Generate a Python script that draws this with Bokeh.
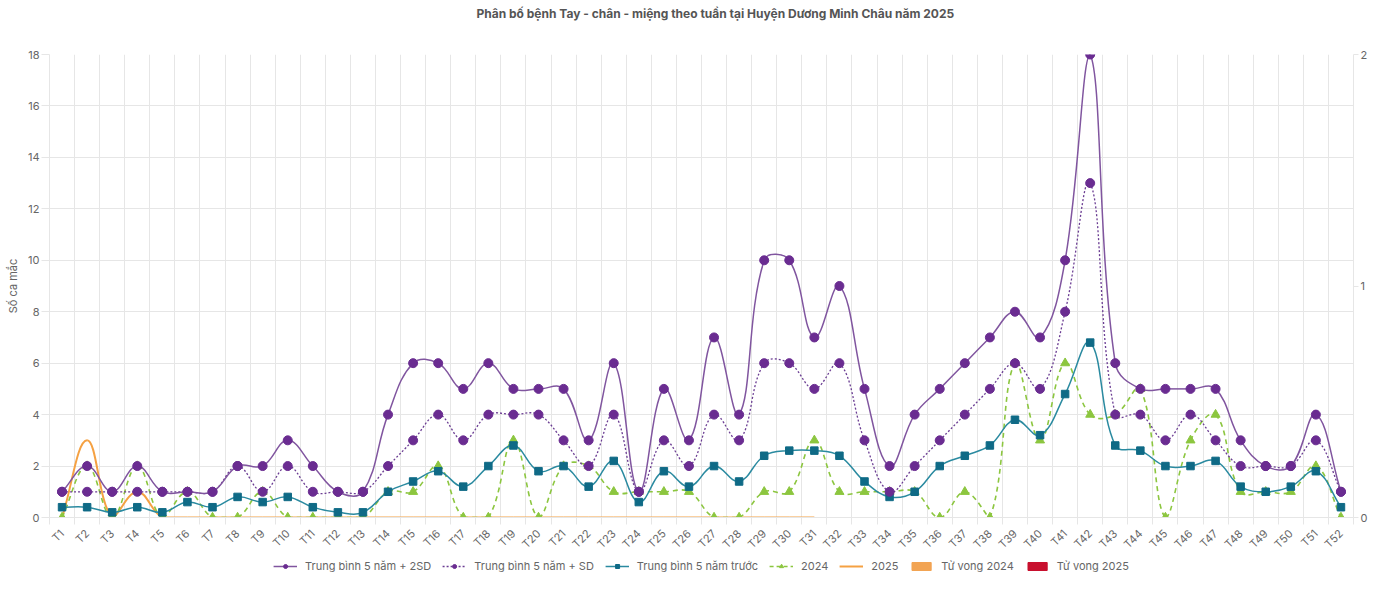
import math
from bokeh.plotting import figure
from bokeh.layouts import column
from bokeh.models import Range1d, LinearAxis, FixedTicker, Legend, LegendItem, Label
from bokeh.embed import file_html
from bokeh.resources import INLINE

# ---------------- data ----------------
weeks = ["T1", "T2", "T3", "T4", "T5", "T6", "T7", "T8", "T9", "T10",
         "T11", "T12", "T13", "T14", "T15", "T16", "T17", "T18", "T19", "T20",
         "T21", "T22", "T23", "T24", "T25", "T26", "T27", "T28", "T29", "T30",
         "T31", "T32", "T33", "T34", "T35", "T36", "T37", "T38", "T39", "T40",
         "T41", "T42", "T43", "T44", "T45", "T46", "T47", "T48", "T49", "T50",
         "T51", "T52"]

mean_2sd = [1, 2, 1, 2, 1, 1, 1, 2, 2, 3,
            2, 1, 1, 4, 6, 6, 5, 6, 5, 5,
            5, 3, 6, 1, 5, 3, 7, 4, 10, 10,
            7, 9, 5, 2, 4, 5, 6, 7, 8, 7,
            10, 18, 6, 5, 5, 5, 5, 3, 2, 2,
            4, 1]

mean_sd = [1, 1, 1, 1, 1, 1, 1, 2, 1, 2,
           1, 1, 1, 2, 3, 4, 3, 4, 4, 4,
           3, 2, 4, 1, 3, 2, 4, 3, 6, 6,
           5, 6, 3, 1, 2, 3, 4, 5, 6, 5,
           8, 13, 4, 4, 3, 4, 3, 2, 2, 2,
           3, 1]

mean_5y = [0.4, 0.4, 0.2, 0.4, 0.2, 0.6, 0.4, 0.8, 0.6, 0.8,
           0.4, 0.2, 0.2, 1.0, 1.4, 1.8, 1.2, 2.0, 2.8, 1.8,
           2.0, 1.2, 2.2, 0.6, 1.8, 1.2, 2.0, 1.4, 2.4, 2.6,
           2.6, 2.4, 1.4, 0.8, 1.0, 2.0, 2.4, 2.8, 3.8, 3.2,
           4.8, 6.8, 2.8, 2.6, 2.0, 2.0, 2.2, 1.2, 1.0, 1.2,
           1.8, 0.4]

cases_2024 = [0, 2, 0, 2, 0, 1, 0, 0, 1, 0,
              0, 0, 0, 1, 1, 2, 0, 0, 3, 0,
              2, 2, 1, 1, 1, 1, 0, 0, 1, 1,
              3, 1, 1, 1, 1, 0, 1, 0, 6, 3,
              6, 4, 4, 5, 0, 3, 4, 1, 1, 1,
              2, 0]

cases_2025 = [0, 3, 0, 1, 0, 0, 0, 0, 0, 0,
              0, 0, 0, 0, 0, 0, 0, 0, 0, 0,
              0, 0, 0, 0, 0, 0, 0, 0, 0, 0,
              0]

deaths_2024 = [0, 0, 0, 0, 0, 0, 0, 0, 0, 0,
               0, 0, 0, 0, 0, 0, 0, 0, 0, 0,
               0, 0, 0, 0, 0, 0, 0, 0, 0, 0,
               0, 0, 0, 0, 0, 0, 0, 0, 0, 0,
               0, 0, 0, 0, 0, 0, 0, 0, 0, 0,
               0, 0]

deaths_2025 = [0, 0, 0, 0, 0, 0, 0, 0, 0, 0,
               0, 0, 0, 0, 0, 0, 0, 0, 0, 0,
               0, 0, 0, 0, 0, 0, 0, 0, 0, 0,
               0]

title_text = "Phân bố bệnh Tay - chân - miệng theo tuần tại Huyện Dương Minh Châu năm 2025"
y_label = "Số ca mắc"
labels = ["Trung bình 5 năm + 2SD", "Trung bình 5 năm + SD", "Trung bình 5 năm trước",
          "2024", "2025", "Tử vong 2024", "Tử vong 2025"]

# ---------------- layout constants ----------------
W = 1370
HT, HL = 26, 14                 # title strip, legend strip
H = 573 - HT - HL               # main chart
BL, BR, BT, BB = 49, 14, 28, 42
FW, FH = W - BL - BR, H - BT - BB
X0, X1 = 0.5, len(weeks) + 0.5
Y0, Y1 = 0, 18
SX = FW / (X1 - X0)
SY = FH / (Y1 - Y0)
TENSION = 0.4
FONT = "Inter"
GRID = "#e6e6e6"
TXT = "#666666"

C_2SD_LINE, C_PURPLE = "#80559f", "#6a2c91"
C_SD_LINE = "#6b3d93"
C_MEAN_LINE, C_MEAN_PT = "#2a8aa0", "#0f6a86"
C_2024 = "#8cc63f"
C_2025 = "#f5a142"
C_D24, C_D25 = "#f2a453", "#c8102e"


def spline(xs, ys):
    """Chart.js-style cubic control points (computed in pixel space, capped to the area)."""
    n = len(xs)
    px = [x * SX for x in xs]
    py = [y * SY for y in ys]
    cp_prev, cp_next = [], []
    for i in range(n):
        a = max(i - 1, 0)
        b = min(i + 1, n - 1)
        d01 = math.hypot(px[i] - px[a], py[i] - py[a])
        d12 = math.hypot(px[b] - px[i], py[b] - py[i])
        tot = d01 + d12
        s01 = d01 / tot if tot else 0
        s12 = d12 / tot if tot else 0
        fa, fb = TENSION * s01, TENSION * s12
        dx, dy = px[b] - px[a], py[b] - py[a]
        cp_prev.append((px[i] - fa * dx, py[i] - fa * dy))
        cp_next.append((px[i] + fb * dx, py[i] + fb * dy))

    def cap(pt):
        x = min(max(pt[0] / SX, X0), X1)
        y = min(max(pt[1] / SY, Y0), Y1)
        return x, y

    seg = dict(x0=[], y0=[], x1=[], y1=[], cx0=[], cy0=[], cx1=[], cy1=[])
    for i in range(n - 1):
        c0 = cap(cp_next[i])
        c1 = cap(cp_prev[i + 1])
        seg["x0"].append(xs[i]); seg["y0"].append(ys[i])
        seg["x1"].append(xs[i + 1]); seg["y1"].append(ys[i + 1])
        seg["cx0"].append(c0[0]); seg["cy0"].append(c0[1])
        seg["cx1"].append(c1[0]); seg["cy1"].append(c1[1])
    return seg


def strip(height):
    f = figure(width=W, height=height, x_range=Range1d(0, 1), y_range=Range1d(0, 1),
               output_backend="svg", toolbar_location=None, x_axis_type=None, y_axis_type=None,
               min_border_left=0, min_border_right=0, min_border_top=0, min_border_bottom=0)
    f.outline_line_color = None
    f.xgrid.grid_line_color = None
    f.ygrid.grid_line_color = None
    f.background_fill_color = "white"
    f.border_fill_color = "white"
    return f


xpos = list(range(1, len(weeks) + 1))

# ---------------- title strip ----------------
tf = strip(HT)
tf.add_layout(Label(x=699.5 / W, y=0.5, text=title_text, text_align="center",
                    text_baseline="middle", text_font=FONT, text_font_size="12px",
                    text_font_style="bold", text_color="#555555"))

# ---------------- main chart ----------------
p = figure(width=W, height=H,
           x_range=Range1d(X0, X1), y_range=Range1d(Y0, Y1),
           output_backend="svg", toolbar_location=None,
           min_border_left=BL, min_border_right=BR, min_border_top=BT, min_border_bottom=BB)
p.background_fill_color = "white"
p.border_fill_color = "white"
p.outline_line_color = None

p.extra_y_ranges = {"deaths": Range1d(0, 2)}

# x axis
xt = FixedTicker(ticks=xpos, minor_ticks=[x - 0.5 for x in xpos] + [X1])
p.xaxis.ticker = xt
p.xaxis.major_label_overrides = {i + 1: w for i, w in enumerate(weeks)}
p.xaxis.major_label_orientation = math.pi / 4
p.xaxis.major_tick_out = 0
p.xaxis.major_tick_in = 0
p.xaxis.minor_tick_out = 7
p.xaxis.minor_tick_in = 0
p.xaxis.minor_tick_line_color = GRID
p.xaxis.axis_line_color = GRID
p.xaxis.major_label_text_font = FONT
p.xaxis.major_label_text_font_size = "11px"
p.xaxis.major_label_text_color = TXT
p.xaxis.major_label_standoff = 7
p.xgrid.ticker = FixedTicker(ticks=[x - 0.5 for x in xpos] + [X1])
p.xgrid.grid_line_color = GRID

# left y axis
p.yaxis.ticker = FixedTicker(ticks=[0, 2, 4, 6, 8, 10, 12, 14, 16, 18])
p.yaxis.axis_label = y_label
p.yaxis.axis_label_text_font = FONT
p.yaxis.axis_label_text_font_size = "11px"
p.yaxis.axis_label_text_font_style = "normal"
p.yaxis.axis_label_text_color = TXT
p.yaxis.axis_label_standoff = 5
p.yaxis.major_label_text_font = FONT
p.yaxis.major_label_text_font_size = "11px"
p.yaxis.major_label_text_color = TXT
p.yaxis.major_tick_out = 8
p.yaxis.major_tick_in = 0
p.yaxis.major_tick_line_color = GRID
p.yaxis.minor_tick_line_color = None
p.yaxis.axis_line_color = GRID
p.yaxis.major_label_standoff = 2
p.ygrid.grid_line_color = GRID

# right axis (deaths)
ra = LinearAxis(y_range_name="deaths", ticker=FixedTicker(ticks=[0, 1, 2]))
ra.major_label_text_font = FONT
ra.major_label_text_font_size = "11px"
ra.major_label_text_color = TXT
ra.major_tick_out = 5
ra.major_tick_in = 0
ra.major_tick_line_color = GRID
ra.minor_tick_line_color = None
ra.axis_line_color = GRID
ra.major_label_standoff = 2
p.add_layout(ra, "right")

# deaths bars
bw = 0.8 * 0.9 / 2
p.vbar(x=[x - bw / 2 for x in xpos], top=deaths_2024, width=bw, y_range_name="deaths",
       fill_color=C_D24, line_color=C_D24, visible=False)
p.vbar(x=[x + bw / 2 for x in xpos[:len(deaths_2025)]], top=deaths_2025, width=bw,
       y_range_name="deaths", fill_color=C_D25, line_color=C_D25)

# 2025
x25 = xpos[:len(cases_2025)]
p.bezier(line_color=C_2025, line_width=2, **spline(x25, cases_2025))

# 2024
p.bezier(line_color=C_2024, line_width=1.6, line_dash="5 4", **spline(xpos, cases_2024))
p.scatter(xpos, cases_2024, marker="triangle", size=9, fill_color=C_2024, line_color=C_2024)

# 5-year mean
p.bezier(line_color=C_MEAN_LINE, line_width=1.5, **spline(xpos, mean_5y))
p.scatter(xpos, mean_5y, marker="square", size=7.5, fill_color=C_MEAN_PT, line_color=C_MEAN_PT)

# mean + SD
p.bezier(line_color=C_SD_LINE, line_width=1.3, line_dash="2 2", **spline(xpos, mean_sd))
p.scatter(xpos, mean_sd, marker="circle", size=9, fill_color=C_PURPLE, line_color=C_PURPLE)

# mean + 2SD
p.bezier(line_color=C_2SD_LINE, line_width=1.5, **spline(xpos, mean_2sd))
p.scatter(xpos, mean_2sd, marker="circle", size=9, fill_color=C_PURPLE, line_color=C_PURPLE)

# ---------------- legend strip (legend swatches only; points lie outside the view) ----------------
lf = strip(HL)
ln = dict(x=[-5, -4], y=[-5, -5])
pt = dict(x=[-5], y=[-5])
l1 = lf.line(line_color=C_2SD_LINE, line_width=1.5, **ln)
m1 = lf.scatter(marker="circle", size=6, fill_color=C_PURPLE, line_color=C_PURPLE, **pt)
l2 = lf.line(line_color=C_SD_LINE, line_width=1.3, line_dash="2 2", **ln)
m2 = lf.scatter(marker="circle", size=6, fill_color=C_PURPLE, line_color=C_PURPLE, **pt)
l3 = lf.line(line_color=C_MEAN_LINE, line_width=1.5, **ln)
m3 = lf.scatter(marker="square", size=6, fill_color=C_MEAN_PT, line_color=C_MEAN_PT, **pt)
l4 = lf.line(line_color=C_2024, line_width=1.6, line_dash="4 3", **ln)
m4 = lf.scatter(marker="triangle", size=6, fill_color=C_2024, line_color=C_2024, **pt)
l5 = lf.line(line_color=C_2025, line_width=2, **ln)
b6 = lf.vbar(x=[-5], top=[-4], bottom=[-5], width=0.5, fill_color=C_D24, line_color=C_D24)
b7 = lf.vbar(x=[-5], top=[-4], bottom=[-5], width=0.5, fill_color=C_D25, line_color=C_D25)

legend = Legend(items=[
    LegendItem(label=labels[0], renderers=[l1, m1]),
    LegendItem(label=labels[1], renderers=[l2, m2]),
    LegendItem(label=labels[2], renderers=[l3, m3]),
    LegendItem(label=labels[3], renderers=[l4, m4]),
    LegendItem(label=labels[4], renderers=[l5]),
    LegendItem(label=labels[5], renderers=[b6]),
    LegendItem(label=labels[6], renderers=[b7]),
], orientation="horizontal", location="center")
legend.label_text_font = FONT
legend.label_text_font_size = "11px"
legend.label_text_color = TXT
legend.glyph_width = 24
legend.glyph_height = 10
legend.spacing = 11
legend.label_standoff = 8
legend.padding = 0
legend.margin = 0
legend.border_line_color = None
legend.background_fill_alpha = 0
legend.click_policy = "none"
lf.add_layout(legend, "center")

layout = column(tf, p, lf, spacing=0)
html = file_html(layout, INLINE)
open("out.html", "w").write(html)
